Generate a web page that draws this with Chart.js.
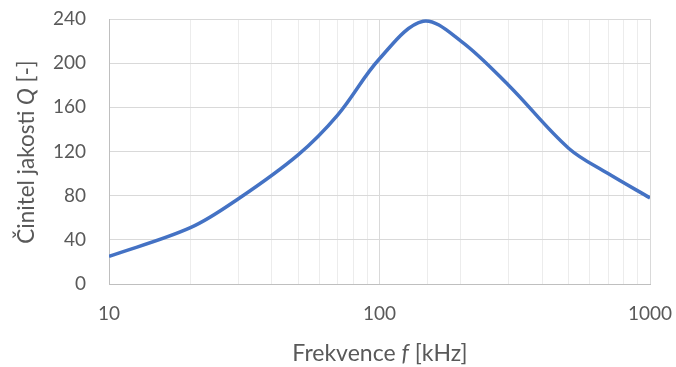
<!DOCTYPE html>
<html>
<head>
<meta charset="utf-8">
<script src="https://cdn.jsdelivr.net/npm/chart.js@4"></script>
<style>
  html, body { margin: 0; padding: 0; background: #fff; }
  #wrap { width: 676px; height: 367px; position: relative; }
</style>
</head>
<body>
<div id="wrap"><canvas id="graf"></canvas></div>
<script>
// frekvence [kHz] a činitel jakosti Q
const frekvence = [10, 20, 30, 50, 70, 100, 145, 200, 300, 500, 700, 1000];
const cinitelQ = [25, 51, 77, 117, 153, 204, 238, 220, 180, 123, 100, 78];
const popiskyX = [10, 100, 1000];
const FONT = "Lato, 'Open Sans', sans-serif";
const SEDA = '#595959';

// popisky os s kurzívou u veličiny
function textSKurzivou(ctx, casti, size) {
    const widths = casti.map(c => {
        ctx.font = (c.it ? 'italic ' : '') + size + 'px ' + FONT;
        return ctx.measureText(c.t).width;
    });
    const total = widths.reduce((a, b) => a + b, 0);
    let x = -total / 2;
    casti.forEach((c, i) => {
        ctx.font = (c.it ? 'italic ' : '') + size + 'px ' + FONT;
        ctx.fillText(c.t, x, 0);
        x += widths[i];
    });
}

const popiskyOs = {
    id: 'popiskyOs',
    afterDraw(chart) {
        const ctx = chart.ctx;
        ctx.save();
        ctx.fillStyle = SEDA;
        ctx.textAlign = 'left';
        ctx.textBaseline = 'middle';
        ctx.translate(380, 354);
        textSKurzivou(ctx, [{t: 'Frekvence '}, {t: 'f', it: true}, {t: ' [kHz]'}], 23);
        ctx.restore();

        ctx.save();
        ctx.fillStyle = SEDA;
        ctx.textAlign = 'left';
        ctx.textBaseline = 'middle';
        ctx.translate(27, 152);
        ctx.rotate(-Math.PI / 2);
        textSKurzivou(ctx, [{t: 'Činitel jakosti '}, {t: 'Q', it: true}, {t: ' [-]'}], 22.5);
        ctx.restore();
    }
};

new Chart(document.getElementById('graf'), {
    type: 'line',
    data: {
        datasets: [{
            data: frekvence.map((f, i) => ({ x: f, y: cinitelQ[i] })),
            borderColor: '#4472C4',
            borderWidth: 3.5,
            pointRadius: 0,
            tension: 0.35,
            fill: false
        }]
    },
    options: {
        responsive: true,
        maintainAspectRatio: false,
        animation: false,
        layout: { padding: { left: 0, top: 19, right: 26, bottom: 0 } },
        plugins: { legend: { display: false }, tooltip: { enabled: false } },
        scales: {
            x: {
                type: 'logarithmic',
                min: 10,
                max: 1000,
                afterFit(s) { s.height = 83; s.paddingLeft = 0; s.paddingRight = 0; },
                border: { color: '#bfbfbf', width: 1 },
                grid: {
                    drawTicks: false,
                    color: c => popiskyX.includes(c.tick && c.tick.value) ? '#d9d9d9' : '#ececec',
                    lineWidth: 1
                },
                ticks: {
                    autoSkip: false,
                    maxRotation: 0,
                    padding: 18,
                    color: SEDA,
                    font: { family: FONT, size: 19 },
                    callback: v => popiskyX.includes(v) ? String(v) : ''
                }
            },
            y: {
                min: 0,
                max: 240,
                afterFit(s) { s.width = 109; s.paddingTop = 0; s.paddingBottom = 0; },
                border: { color: '#bfbfbf', width: 1 },
                grid: { drawTicks: false, color: '#d9d9d9', lineWidth: 1 },
                ticks: {
                    stepSize: 40,
                    padding: 23,
                    color: SEDA,
                    font: { family: FONT, size: 19 }
                }
            }
        }
    },
    plugins: [popiskyOs]
});
</script>
</body>
</html>
